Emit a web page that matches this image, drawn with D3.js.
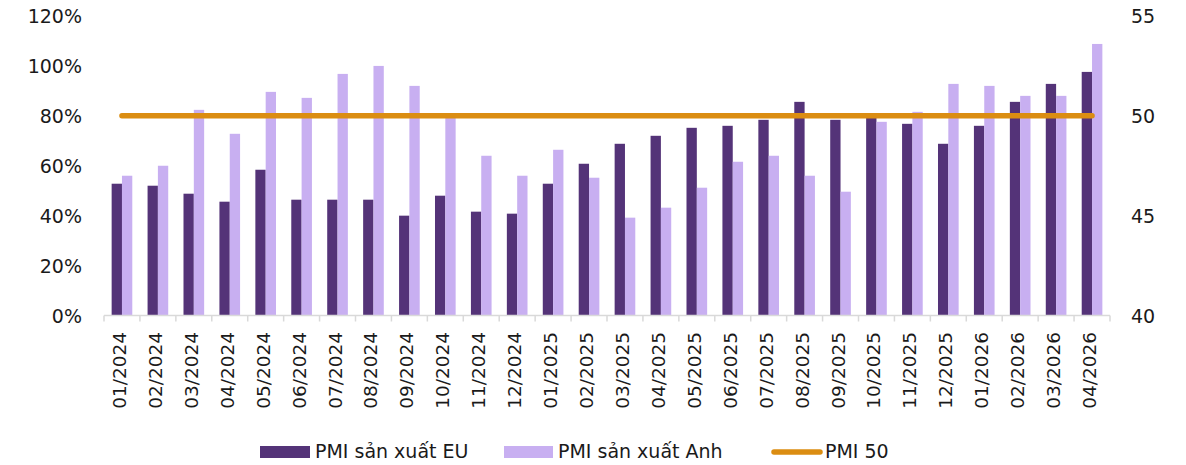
<!DOCTYPE html>
<meta charset="utf-8">
<title>PMI sản xuất EU và Anh</title>
<body style="margin:0;background:#fff">
<svg id="chart" width="1186" height="465"></svg>
<script src="https://d3js.org/d3.v7.min.js"></script>
<script>
    // ---------------- data ----------------
    const months = ["01/2024","02/2024","03/2024","04/2024","05/2024","06/2024","07/2024","08/2024",
        "09/2024","10/2024","11/2024","12/2024","01/2025","02/2025","03/2025","04/2025","05/2025",
        "06/2025","07/2025","08/2025","09/2025","10/2025","11/2025","12/2025","01/2026","02/2026",
        "03/2026","04/2026"];
    const pmiEU = [46.6,46.5,46.1,45.7,47.3,45.8,45.8,45.8,45.0,46.0,45.2,45.1,46.6,47.6,48.6,49.0,
        49.4,49.5,49.8,50.7,49.8,50.0,49.6,48.6,49.5,50.7,51.6,52.2];
    const pmiUK = [47.0,47.5,50.3,49.1,51.2,50.9,52.1,52.5,51.5,49.9,48.0,47.0,48.3,46.9,44.9,45.4,
        46.4,47.7,48.0,47.0,46.2,49.7,50.2,51.6,51.5,51.0,51.0,53.6];
    const pmi50 = months.map(() => 50);
    const leftTicks = [0,0.2,0.4,0.6,0.8,1.0,1.2];
    const rightTicks = [40,45,50,55];

    const colEU = "#543378", colUK = "#c8aff1", colLine = "#db8d12";
    const font = "'DejaVu Sans', sans-serif";
    const ink = "#1a1a1a";

    const svg = d3.select("#chart");
    const x0 = 104, x1 = 1110, yTop = 16, yBot = 315.5;

    const x = d3.scaleBand().domain(months).range([x0, x1]).paddingInner(0).paddingOuter(0);
    const xs = d3.scaleBand().domain(["eu","uk"]).range([0, x.bandwidth()]).paddingInner(0).paddingOuter(0.74);
    const yL = d3.scaleLinear().domain([0, 1.2]).range([yBot, yTop]);
    const yR = d3.scaleLinear().domain([40, 55]).range([yBot, yTop]);

    // bars
    const g = svg.append("g");
    months.forEach((m, i) => {
        g.append("rect").attr("x", x(m) + xs("eu")).attr("width", xs.bandwidth())
            .attr("y", yR(pmiEU[i])).attr("height", yBot - yR(pmiEU[i]))
            .attr("fill", colEU);
        g.append("rect").attr("x", x(m) + xs("uk")).attr("width", xs.bandwidth())
            .attr("y", yR(pmiUK[i])).attr("height", yBot - yR(pmiUK[i]))
            .attr("fill", colUK);
    });

    // PMI 50 line
    svg.append("path")
        .datum(pmi50)
        .attr("d", d3.line().x((d, i) => x(months[i]) + x.bandwidth() / 2).y(d => yR(d)))
        .attr("fill", "none").attr("stroke", colLine).attr("stroke-width", 5.5)
        .attr("stroke-linecap", "round");

    // x axis
    const xAxis = svg.append("g").attr("transform", `translate(0,${yBot})`);
    xAxis.append("line").attr("x1", x0).attr("x2", x1).attr("stroke", "#d9d9d9").attr("stroke-width", 1.5);
    months.concat([null]).forEach(m => {
        const xx = m ? x(m) : x1;
        xAxis.append("line").attr("x1", xx).attr("x2", xx).attr("y1", 0).attr("y2", 6)
            .attr("stroke", "#d9d9d9").attr("stroke-width", 1.5);
    });
    months.forEach(m => {
        xAxis.append("text")
            .attr("transform", `translate(${x(m) + x.bandwidth() / 2 + 4},16.5) rotate(-90)`)
            .attr("text-anchor", "end")
            .attr("font-family", font).attr("font-size", 18.5).attr("fill", ink)
            .text(m);
    });

    // left axis
    svg.append("g").selectAll("text").data(leftTicks).join("text")
        .attr("x", 82).attr("y", d => yL(d) + 7)
        .attr("text-anchor", "end")
        .attr("font-family", font).attr("font-size", 19).attr("fill", ink)
        .text(d3.format(".0%"));

    // right axis
    svg.append("g").selectAll("text").data(rightTicks).join("text")
        .attr("x", 1131).attr("y", d => yR(d) + 7)
        .attr("font-family", font).attr("font-size", 19).attr("fill", ink)
        .text(d => d);

    // legend
    const lg = svg.append("g").attr("font-family", font).attr("font-size", 19).attr("fill", ink);
    lg.append("rect").attr("x", 260).attr("y", 446).attr("width", 50).attr("height", 12).attr("fill", colEU);
    lg.append("text").attr("x", 315).attr("y", 458).text("PMI sản xuất EU");
    lg.append("rect").attr("x", 504).attr("y", 446).attr("width", 49).attr("height", 12).attr("fill", colUK);
    lg.append("text").attr("x", 558).attr("y", 458).text("PMI sản xuất Anh");
    lg.append("line").attr("x1", 774).attr("x2", 820).attr("y1", 452).attr("y2", 452)
        .attr("stroke", colLine).attr("stroke-width", 5.5).attr("stroke-linecap", "round");
    lg.append("text").attr("x", 825).attr("y", 458).text("PMI 50");
</script>
